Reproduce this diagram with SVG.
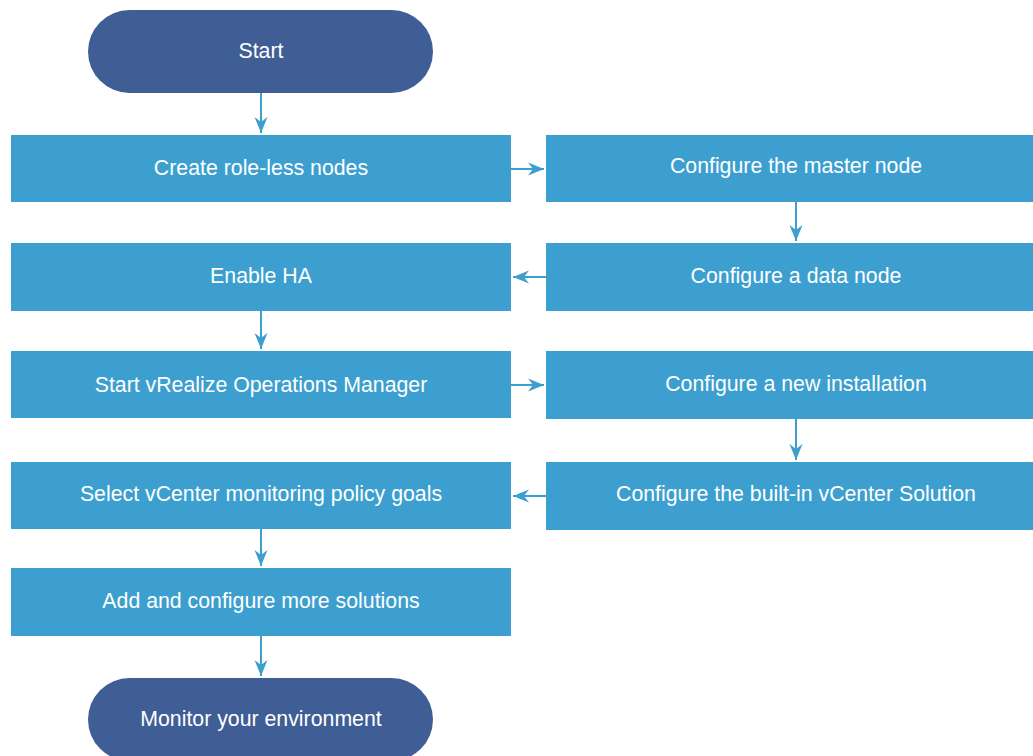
<svg xmlns="http://www.w3.org/2000/svg" width="1033" height="756" viewBox="0 0 1033 756">
<style>
.box{fill:#3c9fd0}
.pill{fill:#3f5e96}
.t{font-family:"Liberation Sans",Arial,sans-serif;font-size:21.3px;fill:#ffffff;text-anchor:middle}
.c{stroke:#3c9fd0;stroke-width:2;fill:none;marker-end:url(#ah)}
</style>
<defs>
<marker id="ah" markerUnits="userSpaceOnUse" markerWidth="20" markerHeight="16" viewBox="-16 -8 18 16" refX="0" refY="0" orient="auto">
<path d="M0,0 L-16,-6.5 L-11,0 L-16,6.5 Z" fill="#3c9fd0"/>
</marker>
</defs>
<rect width="1033" height="756" fill="#ffffff"/>
<g id="connectors">
<path class="c" d="M261,93 V133"/>
<path class="c" d="M511,169 H544"/>
<path class="c" d="M796,202 V241"/>
<path class="c" d="M546,277 H513"/>
<path class="c" d="M261,311 V349"/>
<path class="c" d="M511,385 H544"/>
<path class="c" d="M796,419 V460"/>
<path class="c" d="M546,496 H513"/>
<path class="c" d="M261,529 V566"/>
<path class="c" d="M261,636 V676"/>
</g>
<g id="start"><rect class="pill" x="88" y="10" width="345" height="83" rx="41.5"/><text class="t" x="261" y="58">Start</text></g>
<g id="create"><rect class="box" x="11" y="135" width="500" height="67"/><text class="t" x="261" y="175">Create role-less nodes</text></g>
<g id="master"><rect class="box" x="546" y="135" width="500" height="67"/><text class="t" x="796" y="173">Configure the master node</text></g>
<g id="enableha"><rect class="box" x="11" y="243" width="500" height="68"/><text class="t" x="261" y="283">Enable HA</text></g>
<g id="datanode"><rect class="box" x="546" y="243" width="500" height="68"/><text class="t" x="796" y="283">Configure a data node</text></g>
<g id="startvrops"><rect class="box" x="11" y="351" width="500" height="67"/><text class="t" x="261" y="392">Start vRealize Operations Manager</text></g>
<g id="newinstall"><rect class="box" x="546" y="351" width="500" height="68"/><text class="t" x="796" y="391">Configure a new installation</text></g>
<g id="select"><rect class="box" x="11" y="462" width="500" height="67"/><text class="t" x="261" y="501">Select vCenter monitoring policy goals</text></g>
<g id="builtin"><rect class="box" x="546" y="462" width="500" height="68"/><text class="t" x="796" y="501">Configure the built-in vCenter Solution</text></g>
<g id="addmore"><rect class="box" x="11" y="568" width="500" height="68"/><text class="t" x="261" y="608">Add and configure more solutions</text></g>
<g id="monitor"><rect class="pill" x="88" y="678" width="345" height="83" rx="41.5"/><text class="t" x="261" y="726">Monitor your environment</text></g>
</svg>
